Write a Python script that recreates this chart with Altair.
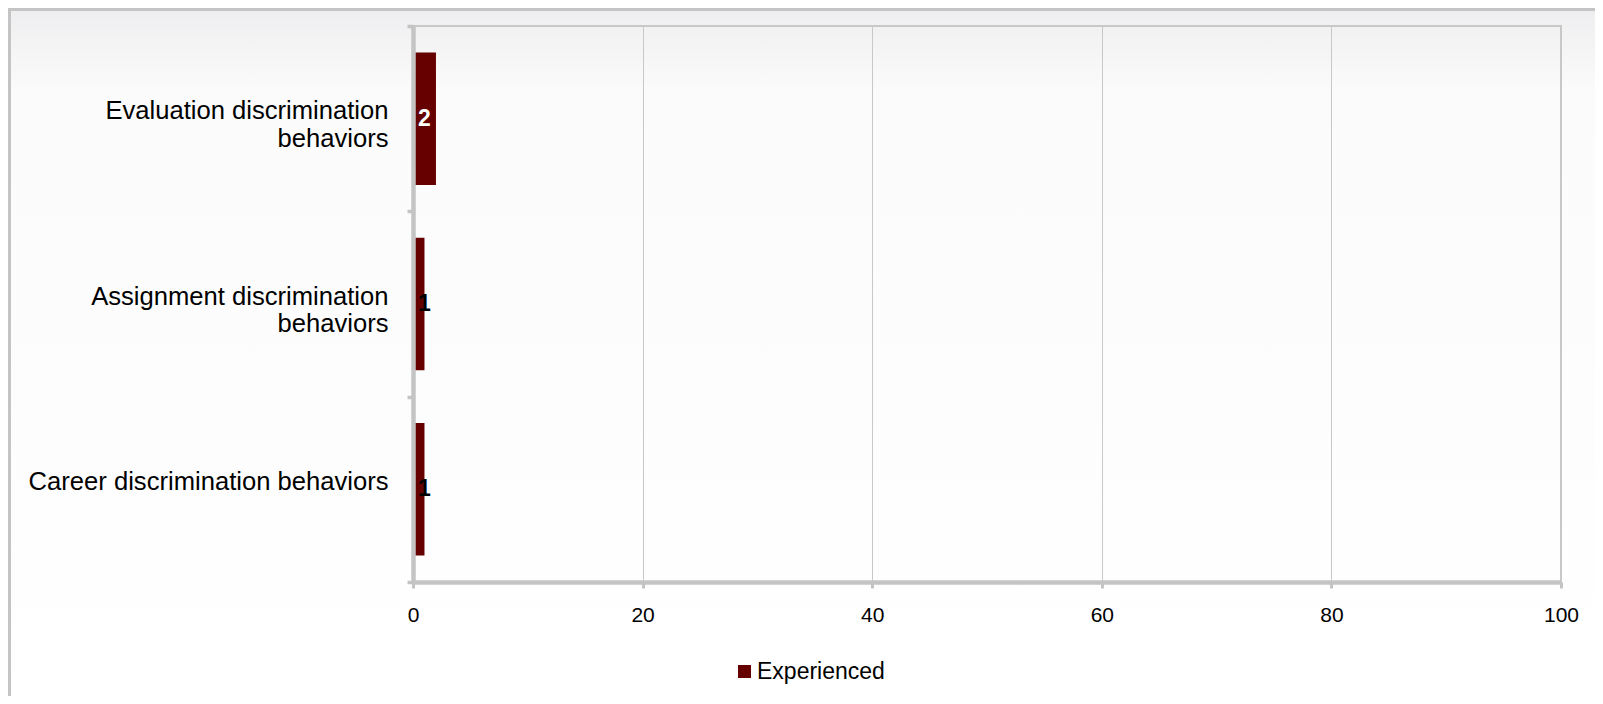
import altair as alt
import pandas as pd

# ---- data ----
categories = [
    "Evaluation discrimination\nbehaviors",
    "Assignment discrimination\nbehaviors",
    "Career discrimination behaviors",
]
values = [2, 1, 1]
series_name = "Experienced"
x_ticks = [0, 20, 40, 60, 80, 100]

df = pd.DataFrame({"category": categories, "value": values, "series": [series_name] * len(categories)})

FONT = "Liberation Sans"
AXIS_GRAY = "#c4c4c4"
BAR = "#660000"

W, H = 1148, 556
PAD = {"left": 405, "top": 18, "right": 34, "bottom": 114}
BAR_SIZE = 132.5

# ---- background (chart area gradient + border) ----
bg_df = pd.DataFrame({"k": [0]})
grad = alt.Gradient(
    gradient="linear",
    stops=[
        alt.GradientStop(color="#eeeef0", offset=0),
        alt.GradientStop(color="#fbfbfb", offset=0.12),
        alt.GradientStop(color="#ffffff", offset=1),
    ],
    x1=0, x2=0, y1=0, y2=1,
)
background = alt.Chart(bg_df).mark_rect(fill=grad, strokeWidth=0).encode(
    x=alt.value(-PAD["left"]), x2=alt.value(W + PAD["right"]),
    y=alt.value(-PAD["top"]), y2=alt.value(H + PAD["bottom"]),
)
border_left = alt.Chart(bg_df).mark_rule(color=AXIS_GRAY, strokeWidth=3).encode(
    x=alt.value(-PAD["left"] + 1.5), y=alt.value(-PAD["top"]), y2=alt.value(H + PAD["bottom"]),
)
border_top = alt.Chart(bg_df).mark_rule(color=AXIS_GRAY, strokeWidth=3).encode(
    x=alt.value(-PAD["left"]), x2=alt.value(W + PAD["right"]), y=alt.value(-PAD["top"] + 1.5),
)
plot_border = alt.Chart(bg_df).mark_rect(fill=None, stroke="#c8c8c8", strokeWidth=2).encode(
    x=alt.value(0), x2=alt.value(W), y=alt.value(0), y2=alt.value(H),
)

x_enc = alt.X(
    "value:Q",
    scale=alt.Scale(domain=[0, 100], nice=False),
    axis=alt.Axis(
        values=x_ticks, format="d", title=None, zindex=1, labelFlush=False,
        labelFontSize=21, labelColor="black", labelFont=FONT, labelPadding=16,
        tickSize=6, tickWidth=3, tickColor=AXIS_GRAY,
        domainColor=AXIS_GRAY, domainWidth=4.5,
        grid=True, gridColor="#c8c8c8", gridWidth=1,
    ),
)

# two-line labels: second line centred under the first (trailing no-break spaces)
NB = "\u00a0"
y_label_expr = (
    "indexof(datum.label, '\\n') >= 0 ? "
    "[split(datum.label, '\\n')[0], "
    "pad(split(datum.label, '\\n')[1], "
    "length(split(datum.label, '\\n')[1]) + "
    "round((length(split(datum.label, '\\n')[0]) * 11.3 - length(split(datum.label, '\\n')[1]) * 12.3) / 14.2), "
    "'" + NB + "')] : datum.label"
)

y_enc = alt.Y(
    "category:N",
    sort=categories,
    scale=alt.Scale(paddingInner=0, paddingOuter=0),
    axis=alt.Axis(
        title=None, labelExpr=y_label_expr, zindex=1,
        labelFontSize=25.6, labelLineHeight=27.5, labelColor="black", labelFont=FONT,
        labelPadding=19, labelOffset=-8, labelLimit=0,
        tickBand="extent", tickSize=6, tickWidth=3.5, tickColor=AXIS_GRAY,
        domainColor=AXIS_GRAY, domainWidth=4.5, grid=False,
    ),
)

bars = alt.Chart(df).mark_bar(size=BAR_SIZE).encode(
    x=x_enc,
    y=y_enc,
    color=alt.Color(
        "series:N",
        scale=alt.Scale(domain=[series_name], range=[BAR]),
        legend=alt.Legend(
            title=None, orient="none", legendX=320, legendY=634,
            symbolType="square", symbolSize=169, symbolStrokeWidth=0,
            labelFontSize=23, labelFont=FONT, labelColor="black",
            labelOffset=1, padding=0,
        ),
    ),
)

labels = alt.Chart(df).transform_calculate(
    labelpos="max(datum.value / 2, 1)"
).mark_text(
    fontWeight="bold", fontSize=23, font=FONT, align="center", baseline="middle", dx=0
).encode(
    x=alt.X("labelpos:Q", scale=alt.Scale(domain=[0, 100], nice=False)),
    y=alt.Y("category:N", sort=categories),
    text=alt.Text("value:Q", format="d"),
    color=alt.condition("datum.value >= 2", alt.value("white"), alt.value("black")),
)

chart = alt.layer(background, border_left, border_top, plot_border, bars, labels).properties(
    width=W, height=H, padding=PAD, autosize=alt.AutoSizeParams(type="none"),
    background="white",
).configure(font=FONT).configure_view(stroke=None)

chart.save("out.html", embed_options={"renderer": "svg", "actions": False})
